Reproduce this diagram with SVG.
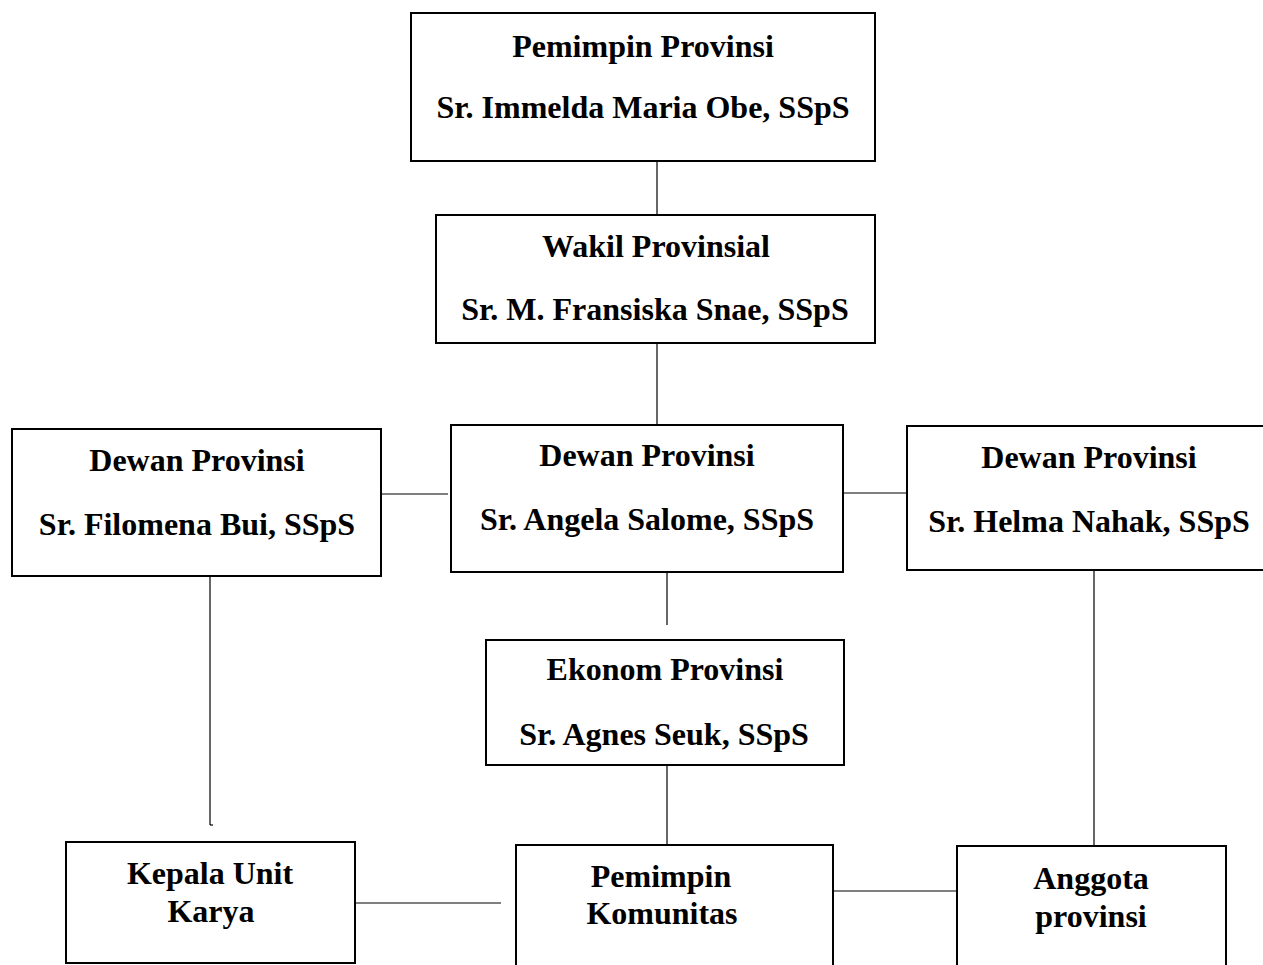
<svg xmlns="http://www.w3.org/2000/svg" width="1263" height="965" viewBox="0 0 1263 965">
<style>
.box{fill:#fff;stroke:#000;stroke-width:2}
.t{font-family:"Liberation Serif","Times New Roman",serif;font-weight:bold;font-size:32px;fill:#000;text-anchor:middle}
.c line{stroke:#000;stroke-width:1.2}
</style>
<rect width="1263" height="965" fill="#fff"/>
<g class="c" id="connectors">
<line x1="657" y1="161" x2="657" y2="215"/>
<line x1="657" y1="343" x2="657" y2="425"/>
<line x1="381" y1="494" x2="448" y2="494"/>
<line x1="843" y1="493" x2="907" y2="493"/>
<line x1="667" y1="569" x2="667" y2="625"/>
<line x1="667" y1="765" x2="667" y2="845"/>
<line x1="210" y1="576" x2="210" y2="825"/>
<line x1="210" y1="825" x2="213" y2="825"/>
<line x1="1094" y1="570" x2="1094" y2="846"/>
<line x1="355" y1="903" x2="501" y2="903"/>
<line x1="833" y1="891" x2="958" y2="891"/>
</g>
<g id="n1"><rect class="box" x="411" y="13" width="464" height="148"/>
<text class="t" x="643" y="57">Pemimpin Provinsi</text>
<text class="t" x="643" y="118">Sr. Immelda Maria Obe, SSpS</text></g>
<g id="n2"><rect class="box" x="436" y="215" width="439" height="128"/>
<text class="t" x="656" y="257">Wakil Provinsial</text>
<text class="t" x="655" y="320">Sr. M. Fransiska Snae, SSpS</text></g>
<g id="n3"><rect class="box" x="12" y="429" width="369" height="147"/>
<text class="t" x="197" y="471">Dewan Provinsi</text>
<text class="t" x="197" y="535">Sr. Filomena Bui, SSpS</text></g>
<g id="n4"><rect class="box" x="451" y="425" width="392" height="147"/>
<text class="t" x="647" y="466">Dewan Provinsi</text>
<text class="t" x="647" y="530">Sr. Angela Salome, SSpS</text></g>
<g id="n5"><rect class="box" x="907" y="426" width="362" height="144"/>
<text class="t" x="1089" y="468">Dewan Provinsi</text>
<text class="t" x="1089" y="532">Sr. Helma Nahak, SSpS</text></g>
<g id="n6"><rect class="box" x="486" y="640" width="358" height="125"/>
<text class="t" x="665" y="680">Ekonom Provinsi</text>
<text class="t" x="664" y="745">Sr. Agnes Seuk, SSpS</text></g>
<g id="n7"><rect class="box" x="66" y="842" width="289" height="121"/>
<text class="t" x="210" y="884">Kepala Unit</text>
<text class="t" x="211" y="922">Karya</text></g>
<g id="n8"><rect class="box" x="516" y="845" width="317" height="130"/>
<text class="t" x="661" y="887">Pemimpin</text>
<text class="t" x="662" y="924">Komunitas</text></g>
<g id="n9"><rect class="box" x="957" y="846" width="269" height="130"/>
<text class="t" x="1091" y="889">Anggota</text>
<text class="t" x="1091" y="927">provinsi</text></g>
</svg>
